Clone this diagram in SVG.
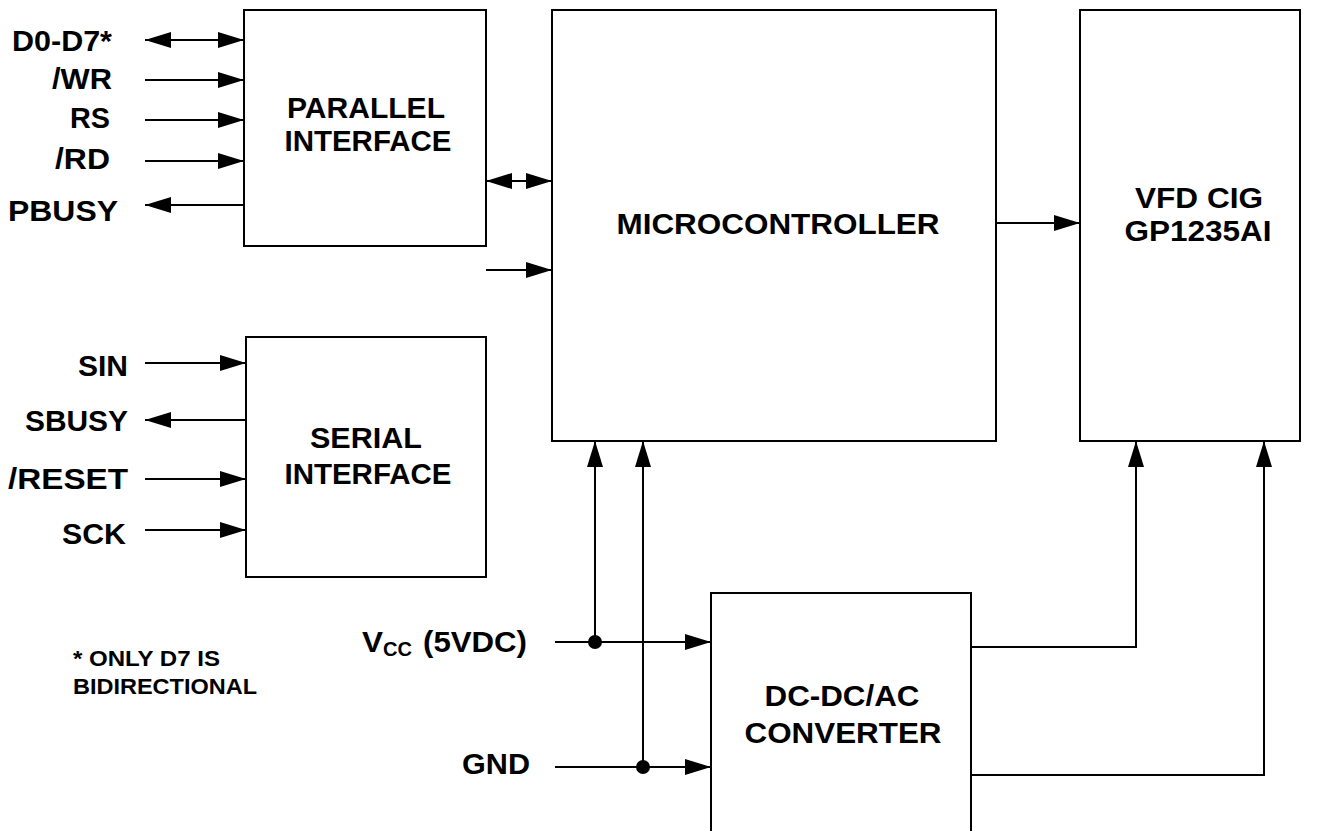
<svg xmlns="http://www.w3.org/2000/svg" width="1320" height="831" viewBox="0 0 1320 831">
<style>
  .box { fill: #fff; stroke: #000; stroke-width: 2; }
  .ln { fill: none; stroke: #000; stroke-width: 2; }
  text { font-family: "Liberation Sans", Arial, sans-serif; font-weight: bold; fill: #000; }
  .lbl { font-size: 29px; }
  .ctr { font-size: 29px; text-anchor: middle; }
  .note { font-size: 22.5px; }
</style>
<defs>
  <marker id="ah" viewBox="0 0 26 16" refX="26" refY="8" markerWidth="26" markerHeight="16" markerUnits="userSpaceOnUse" orient="auto-start-reverse">
    <path d="M0,0 L26,8 L0,16 z" fill="#000"/>
  </marker>
</defs>
<rect width="1320" height="831" fill="#fff"/>

<g id="parallel">
  <rect class="box" x="244" y="10" width="242" height="236"/>
  <text class="ctr" x="366" y="118" textLength="158" lengthAdjust="spacingAndGlyphs">PARALLEL</text>
  <text class="ctr" x="368" y="151" textLength="167" lengthAdjust="spacingAndGlyphs">INTERFACE</text>
</g>
<g id="serial">
  <rect class="box" x="246" y="337" width="240" height="240"/>
  <text class="ctr" x="366" y="448" textLength="112" lengthAdjust="spacingAndGlyphs">SERIAL</text>
  <text class="ctr" x="368" y="484" textLength="167" lengthAdjust="spacingAndGlyphs">INTERFACE</text>
</g>
<g id="micro">
  <rect class="box" x="552" y="10" width="444" height="431"/>
  <text class="ctr" x="778" y="234" textLength="323" lengthAdjust="spacingAndGlyphs">MICROCONTROLLER</text>
</g>
<g id="vfd">
  <rect class="box" x="1080" y="10" width="220" height="431"/>
  <text class="ctr" x="1199" y="208" textLength="128" lengthAdjust="spacingAndGlyphs">VFD CIG</text>
  <text class="ctr" x="1198" y="241" textLength="147" lengthAdjust="spacingAndGlyphs">GP1235AI</text>
</g>
<g id="converter">
  <rect class="box" x="711" y="593" width="260" height="260"/>
  <text class="ctr" x="842" y="706" textLength="155" lengthAdjust="spacingAndGlyphs">DC-DC/AC</text>
  <text class="ctr" x="843" y="743" textLength="197" lengthAdjust="spacingAndGlyphs">CONVERTER</text>
</g>

<g id="signal-labels">
  <text class="lbl" x="12" y="51" textLength="100" lengthAdjust="spacingAndGlyphs">D0-D7*</text>
  <text class="lbl" x="52" y="89" textLength="60" lengthAdjust="spacingAndGlyphs">/WR</text>
  <text class="lbl" x="70" y="128" textLength="40" lengthAdjust="spacingAndGlyphs">RS</text>
  <text class="lbl" x="55" y="169" textLength="55" lengthAdjust="spacingAndGlyphs">/RD</text>
  <text class="lbl" x="8" y="221" textLength="110" lengthAdjust="spacingAndGlyphs">PBUSY</text>
  <text class="lbl" x="78" y="376" textLength="50" lengthAdjust="spacingAndGlyphs">SIN</text>
  <text class="lbl" x="25" y="431" textLength="103" lengthAdjust="spacingAndGlyphs">SBUSY</text>
  <text class="lbl" x="8" y="489" textLength="120" lengthAdjust="spacingAndGlyphs">/RESET</text>
  <text class="lbl" x="62" y="544" textLength="64" lengthAdjust="spacingAndGlyphs">SCK</text>
  <text class="lbl" x="362" y="652"><tspan textLength="21" lengthAdjust="spacingAndGlyphs">V</tspan><tspan x="383" y="656" font-size="20" textLength="29" lengthAdjust="spacingAndGlyphs">CC</tspan><tspan x="423" y="652" textLength="104" lengthAdjust="spacingAndGlyphs">(5VDC)</tspan></text>
  <text class="lbl" x="462" y="774" textLength="68" lengthAdjust="spacingAndGlyphs">GND</text>
  <text class="note" x="73" y="666" textLength="147" lengthAdjust="spacingAndGlyphs">* ONLY D7 IS</text>
  <text class="note" x="73" y="694" textLength="184" lengthAdjust="spacingAndGlyphs">BIDIRECTIONAL</text>
</g>

<g id="connectors">
  <line class="ln" x1="145" y1="40" x2="244" y2="40" marker-start="url(#ah)" marker-end="url(#ah)"/>
  <line class="ln" x1="145" y1="80" x2="244" y2="80" marker-end="url(#ah)"/>
  <line class="ln" x1="145" y1="120" x2="244" y2="120" marker-end="url(#ah)"/>
  <line class="ln" x1="145" y1="161" x2="244" y2="161" marker-end="url(#ah)"/>
  <line class="ln" x1="244" y1="205" x2="145" y2="205" marker-end="url(#ah)"/>
  <line class="ln" x1="486" y1="181" x2="552" y2="181" marker-start="url(#ah)" marker-end="url(#ah)"/>
  <line class="ln" x1="145" y1="363" x2="246" y2="363" marker-end="url(#ah)"/>
  <line class="ln" x1="246" y1="420" x2="145" y2="420" marker-end="url(#ah)"/>
  <line class="ln" x1="145" y1="479" x2="246" y2="479" marker-end="url(#ah)"/>
  <line class="ln" x1="145" y1="530" x2="246" y2="530" marker-end="url(#ah)"/>
  <line class="ln" x1="486" y1="270" x2="552" y2="270" marker-end="url(#ah)"/>
  <line class="ln" x1="996" y1="223" x2="1080" y2="223" marker-end="url(#ah)"/>
  <line class="ln" x1="555" y1="642" x2="711" y2="642" marker-end="url(#ah)"/>
  <line class="ln" x1="555" y1="767" x2="711" y2="767" marker-end="url(#ah)"/>
  <line class="ln" x1="595" y1="642" x2="595" y2="441" marker-end="url(#ah)"/>
  <line class="ln" x1="643" y1="767" x2="643" y2="441" marker-end="url(#ah)"/>
  <circle cx="595" cy="642" r="7" fill="#000"/>
  <circle cx="643" cy="767" r="7" fill="#000"/>
  <polyline class="ln" points="971,647 1136,647 1136,441" marker-end="url(#ah)"/>
  <polyline class="ln" points="971,775 1264,775 1264,441" marker-end="url(#ah)"/>
</g>
</svg>
